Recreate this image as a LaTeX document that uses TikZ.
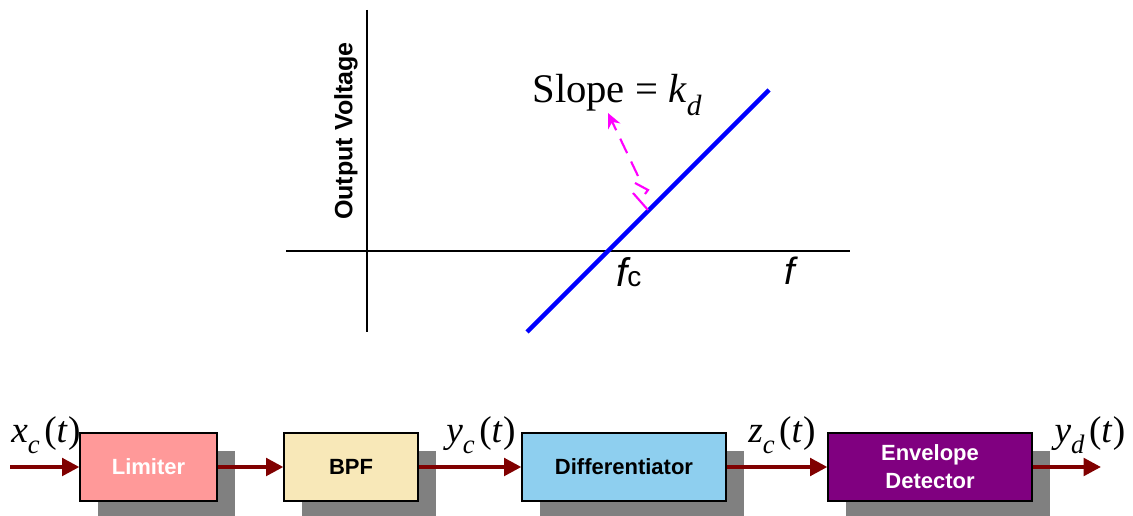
\documentclass[tikz,border=0pt]{standalone}
\usepackage{fontspec}
\setmainfont{Liberation Serif}
\newfontfamily\arialf{Liberation Sans}
\usetikzlibrary{arrows.meta}
\definecolor{arrowred}{HTML}{800000}
\definecolor{limfill}{HTML}{FF9999}
\definecolor{bpffill}{HTML}{F8E8B8}
\definecolor{difffill}{HTML}{8ECFEF}
\definecolor{envfill}{HTML}{800080}
\definecolor{shadowgray}{HTML}{808080}
\definecolor{slopemag}{HTML}{FF00FF}
\newcommand{\sigl}[2]{{\fontsize{28}{32}\selectfont\itshape #1\raisebox{-0.28em}{\fontsize{20}{24}\selectfont #2}\kern0.12em\upshape(\itshape t\kern0.03em\upshape)}}
\tikzset{
  blk/.style={draw=black, line width=0.9pt, minimum width=#1*0.75pt, minimum height=51pt, inner sep=0pt, align=center, font=\arialf\bfseries\fontsize{16.5}{21}\selectfont},
  sigarrow/.style={draw=arrowred, line width=3pt, -{Triangle[length=13pt,width=13pt]}},
  axisline/.style={draw=black, line width=1pt},
  siglabel/.style={inner sep=0pt, anchor=base}
}
\begin{document}
\begin{tikzpicture}[x=0.75pt, y=-0.75pt]
\useasboundingbox (0,0) rectangle (1133,516);
% graph
\draw[axisline] (367,10) -- (367,332);
\draw[axisline] (286,251) -- (850,251);
\node[rotate=90, font=\arialf\bfseries\fontsize{18.8}{22}\selectfont, inner sep=0pt] (ylab) at (346,131) {Output Voltage};
\coordinate (lineA) at (527,332);
\coordinate (lineB) at (769,90);
\draw[blue, line width=3.2pt] (lineA) -- (lineB);
\coordinate (foot) at (648,210);
\coordinate (dashS) at (638,176);
\coordinate (tipS) at (608,113);
\draw[slopemag, line width=1.6pt, dash pattern=on 12pt off 7pt, -{Stealth[length=11pt,width=10pt]}] (dashS) -- (tipS);
\draw[slopemag, line width=1.6pt] (633,193) -- (foot);
\draw[slopemag, line width=1.6pt] (635,183) -- (648,190) -- (645,194);
\node[anchor=base, inner sep=0pt, font=\fontsize{30.5}{36}\selectfont] (slope) at (617,103) {Slope = \textit{k}\raisebox{-0.3em}{\fontsize{22}{26}\selectfont\itshape d}};
\node[anchor=base west, inner sep=0pt] (fc) at (616,287) {\arialf\fontsize{30}{34}\selectfont\itshape f\upshape\fontsize{21}{24}\selectfont c};
\node[anchor=base west, inner sep=0pt] (fx) at (784,285) {\arialf\fontsize{28.5}{32}\selectfont\itshape f};
% block diagram shadows
\fill[shadowgray] (98,451) rectangle (235,516);
\fill[shadowgray] (302,451) rectangle (436,516);
\fill[shadowgray] (540,451) rectangle (744,516);
\fill[shadowgray] (846,451) rectangle (1050,516);
\node[blk=137, fill=limfill, text=white] (lim) at (148.5,467) {Limiter};
\node[blk=134, fill=bpffill, text=black] (bpf) at (351,467) {BPF};
\node[blk=204, fill=difffill, text=black] (dif) at (624,467) {Differentiator};
\node[blk=204, fill=envfill, text=white] (env) at (930,467) {Envelope\\Detector};
\coordinate (inS) at (10,467);
\coordinate (outE) at (1101,467);
\draw[sigarrow] (inS) -- (lim.west);
\draw[sigarrow] (lim.east) -- (bpf.west);
\draw[sigarrow] (bpf.east) -- (dif.west);
\draw[sigarrow] (dif.east) -- (env.west);
\draw[sigarrow] (env.east) -- (outE);
\node[siglabel] (lx) at (46,443) {\sigl{x}{c}};
\node[siglabel] (ly) at (481,443) {\sigl{y}{c}};
\node[siglabel] (lz) at (782,443) {\sigl{z}{c}};
\node[siglabel] (lyd) at (1090,443) {\sigl{y}{d}};
\end{tikzpicture}
\end{document}
